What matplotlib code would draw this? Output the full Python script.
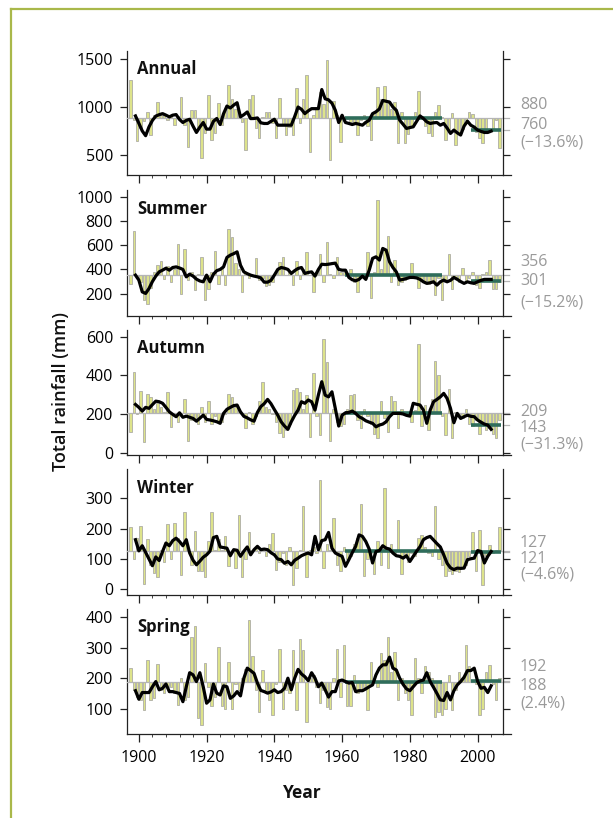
import numpy as np
import matplotlib.pyplot as plt
from matplotlib.lines import Line2D
from matplotlib.ticker import MultipleLocator
import matplotlib.transforms as mtransforms

plt.rcParams['font.family'] = ['Open Sans', 'DejaVu Sans']

# ---- data ----
years = np.arange(1897, 2007)       # bars
line_years = np.arange(1899, 2005)  # running mean

seasons = ['Annual', 'Summer', 'Autumn', 'Winter', 'Spring']
base_means = [880, 356, 209, 127, 188]      # 1961-1990 mean
recent_means = [760, 301, 143, 121, 192]    # 1997-2006 mean
change_labels = ['(\u221213.6%)', '(\u221215.2%)', '(\u221231.3%)', '(\u22124.6%)', '(2.4%)']

annual_bars = [1283, 860, 648, 776, 850, 948, 707, 914, 1052, 914,
               931, 862, 914, 810, 910, 1103, 810, 586, 966, 966,
               776, 466, 724, 1121, 655, 724, 1045, 810, 983, 1231,
               1086, 983, 948, 845, 552, 1086, 1121, 776, 672, 897,
               948, 948, 828, 672, 1093, 810, 707, 793, 707, 1197,
               828, 1086, 1334, 528, 914, 990, 1155, 1034, 1493, 448,
               1059, 914, 631, 850, 870, 840, 820, 707, 860, 914,
               800, 655, 948, 1207, 1086, 1224, 1040, 980, 1052, 621,
               950, 621, 720, 790, 950, 1172, 880, 800, 724, 700,
               948, 1024, 900, 655, 740, 940, 603, 720, 770, 860,
               948, 931, 741, 672, 621, 760, 880, 760, 860, 576]
summer_bars = [280, 715, 330, 300, 150, 115, 250, 380, 440, 470,
               320, 430, 300, 400, 610, 200, 570, 310, 380, 230,
               360, 505, 150, 240, 380, 550, 280, 420, 270, 730,
               670, 450, 400, 210, 380, 330, 350, 495, 310, 330,
               260, 270, 300, 390, 460, 500, 350, 380, 270, 470,
               320, 400, 545, 350, 210, 380, 530, 300, 625, 360,
               330, 500, 380, 380, 350, 400, 300, 210, 340, 360,
               545, 165, 380, 975, 400, 560, 675, 300, 480, 270,
               300, 310, 340, 455, 330, 250, 320, 300, 280, 300,
               190, 330, 150, 300, 530, 237, 330, 300, 408, 300,
               330, 380, 270, 250, 360, 380, 480, 240, 240, 300]
autumn_bars = [110, 420, 200, 320, 60, 305, 290, 230, 260, 240,
               210, 315, 136, 200, 160, 190, 277, 64, 170, 170,
               150, 236, 160, 270, 150, 190, 160, 160, 200, 305,
               290, 240, 230, 200, 128, 210, 150, 190, 270, 368,
               240, 230, 200, 160, 102, 85, 120, 150, 325, 334,
               316, 230, 300, 85, 411, 190, 93, 586, 471, 64,
               230, 160, 140, 150, 230, 300, 307, 170, 130, 230,
               190, 150, 100, 80, 270, 180, 110, 293, 270, 130,
               230, 200, 190, 160, 220, 560, 140, 250, 120, 280,
               475, 400, 190, 93, 333, 80, 210, 190, 180, 230,
               150, 140, 170, 100, 150, 120, 130, 100, 80, 170]
winter_bars = [205, 99, 167, 209, 17, 165, 80, 53, 40, 130,
               90, 215, 100, 218, 170, 47, 256, 130, 80, 193,
               60, 58, 40, 160, 256, 130, 165, 130, 175, 75,
               130, 70, 244, 40, 100, 190, 130, 140, 120, 130,
               110, 150, 185, 64, 90, 120, 80, 140, 13, 70,
               130, 275, 40, 130, 140, 120, 361, 70, 150, 130,
               234, 80, 60, 140, 100, 110, 150, 170, 280, 42,
               100, 120, 50, 160, 80, 334, 70, 150, 120, 229,
               50, 110, 90, 120, 110, 170, 180, 140, 120, 110,
               275, 100, 80, 42, 60, 50, 60, 55, 70, 80,
               110, 187, 60, 196, 14, 110, 146, 120, 130, 205]
spring_bars = [233, 162, 140, 130, 96, 260, 130, 135, 246, 160,
               150, 170, 170, 150, 112, 200, 130, 140, 336, 371,
               69, 47, 249, 170, 110, 140, 304, 110, 100, 254,
               100, 180, 160, 200, 230, 391, 273, 160, 90, 227,
               150, 130, 80, 180, 295, 100, 160, 150, 291, 97,
               328, 293, 58, 200, 210, 170, 120, 160, 105, 100,
               200, 295, 140, 309, 110, 110, 210, 150, 160, 170,
               97, 254, 200, 170, 284, 260, 334, 220, 287, 130,
               200, 150, 130, 79, 266, 200, 150, 240, 220, 200,
               72, 90, 80, 100, 210, 97, 160, 220, 200, 309,
               240, 190, 180, 79, 100, 220, 243, 180, 127, 200]

annual_line = [907, 830, 750, 700, 793, 860, 905, 920, 931, 915,
               897, 915, 921, 870, 838, 860, 872, 800, 734, 790,
               838, 769, 769, 850, 880, 817, 930, 1010, 990, 1020,
               1045, 897, 920, 948, 879, 880, 886, 835, 828, 828,
               850, 872, 810, 810, 810, 810, 810, 900, 1000, 976,
               931, 960, 983, 983, 983, 1183, 1086, 1075, 1040, 966,
               838, 914, 838, 828, 817, 828, 820, 810, 840, 862,
               931, 950, 980, 1069, 1060, 1052, 1000, 966, 862, 820,
               776, 785, 793, 850, 907, 880, 845, 828, 835, 838,
               810, 828, 780, 724, 759, 730, 707, 800, 852, 810,
               790, 759, 745, 734, 734, 748]
summer_line = [353, 312, 215, 202, 243, 300, 345, 380, 394, 410,
               394, 416, 421, 412, 400, 339, 361, 345, 320, 305,
               298, 353, 298, 360, 390, 400, 421, 499, 518, 530,
               545, 435, 380, 365, 353, 345, 339, 330, 295, 295,
               310, 353, 400, 416, 410, 400, 367, 390, 408, 416,
               367, 375, 380, 345, 400, 443, 440, 443, 448, 452,
               400, 394, 394, 334, 315, 306, 318, 345, 318, 394,
               491, 504, 477, 573, 559, 463, 416, 380, 312, 318,
               325, 334, 334, 330, 318, 298, 285, 290, 298, 271,
               298, 312, 298, 310, 334, 318, 300, 285, 298, 290,
               285, 298, 310, 318, 318, 318]
autumn_line = [251, 236, 217, 236, 231, 250, 268, 265, 257, 236,
               213, 200, 188, 208, 185, 191, 185, 179, 165, 180,
               196, 174, 171, 167, 162, 154, 205, 226, 236, 245,
               248, 213, 190, 182, 172, 165, 210, 240, 255, 277,
               255, 225, 196, 162, 140, 123, 162, 195, 222, 265,
               257, 274, 265, 222, 300, 368, 299, 290, 316, 230,
               140, 196, 208, 210, 217, 205, 188, 179, 167, 160,
               154, 136, 145, 150, 162, 188, 205, 205, 205, 202,
               195, 191, 257, 252, 248, 222, 154, 222, 265, 277,
               290, 308, 282, 231, 157, 205, 179, 188, 196, 190,
               188, 171, 160, 150, 145, 123]
winter_line = [163, 126, 143, 121, 99, 77, 106, 94, 124, 152,
               143, 160, 168, 157, 143, 163, 119, 95, 80, 92,
               105, 113, 125, 170, 174, 139, 137, 135, 110, 130,
               128, 108, 125, 139, 113, 130, 141, 130, 132, 130,
               120, 113, 99, 97, 85, 91, 80, 95, 102, 110,
               115, 119, 113, 174, 130, 160, 163, 187, 135, 119,
               113, 108, 75, 97, 120, 141, 179, 174, 157, 132,
               86, 124, 127, 143, 135, 132, 119, 110, 108, 102,
               110, 91, 108, 125, 140, 163, 170, 174, 162, 150,
               139, 113, 85, 70, 64, 69, 68, 69, 97, 100,
               102, 127, 124, 86, 108, 124]
spring_line = [159, 131, 153, 153, 153, 172, 189, 162, 167, 181,
               156, 156, 153, 150, 123, 172, 218, 211, 189, 218,
               172, 118, 129, 181, 151, 145, 175, 172, 134, 142,
               156, 142, 200, 233, 225, 216, 184, 160, 156, 151,
               155, 162, 153, 156, 167, 200, 162, 200, 229, 214,
               205, 192, 218, 200, 172, 184, 162, 138, 156, 156,
               191, 194, 189, 184, 186, 156, 159, 159, 165, 172,
               178, 211, 233, 244, 244, 269, 233, 227, 200, 180,
               165, 159, 172, 185, 191, 194, 218, 189, 170, 150,
               129, 127, 153, 129, 159, 178, 189, 203, 225, 225,
               233, 190, 167, 170, 153, 175]

bars_all = [annual_bars, summer_bars, autumn_bars, winter_bars, spring_bars]
lines_all = [annual_line, summer_line, autumn_line, winter_line, spring_line]

yticks_all = [[500, 1000, 1500], [200, 400, 600, 800, 1000], [0, 200, 400, 600],
              [0, 100, 200, 300], [100, 200, 300, 400]]
ylims = [(289, 1586), (16, 1055), (-9, 634), (-20, 397), (17, 427)]

# layout (pixels of a 613x818 canvas)
W, H = 613, 818
panel_px = [(51, 175), (190, 316), (330, 455), (469, 595), (609, 734)]
label_ypos = [(0.565, 0.403, 0.266), (0.429, 0.278, 0.107), (0.344, 0.216, 0.084),
              (0.409, 0.286, 0.159), (0.536, 0.384, 0.240)]

bar_face = '#dde38b'
bar_edge = '#adada5'
green = '#2f6d5b'
grey_txt = '#9a9a9a'

fig = plt.figure(figsize=(W / 100, H / 100), dpi=100, facecolor='white')

# olive frame
fig.add_artist(Line2D([11 / W, 11 / W], [0, 1 - 9 / H], color='#a9b84a', lw=1.6))
fig.add_artist(Line2D([11 / W, 1], [1 - 9 / H, 1 - 9 / H], color='#a9b84a', lw=1.6))

axes = []
for i, name in enumerate(seasons):
    top, bot = panel_px[i]
    ax = fig.add_axes([127 / W, 1 - bot / H, 376 / W, (bot - top) / H])
    axes.append(ax)
    base = base_means[i]
    vals = np.array(bars_all[i], dtype=float)

    ax.bar(years + 0.5, vals - base, bottom=base, width=0.72,
           color=bar_face, edgecolor=bar_edge, linewidth=0.6, zorder=2)
    ax.axhline(base, color='#b5b5b5', lw=0.9, zorder=3)
    ax.plot([1961, 1989.5], [base, base], color=green, lw=2.6,
            solid_capstyle='butt', zorder=4)
    ax.plot([1998, 2007], [recent_means[i], recent_means[i]], color=green, lw=2.6,
            solid_capstyle='butt', zorder=4)
    ax.plot(line_years, lines_all[i], color='black', lw=2.3, zorder=5)

    ax.set_xlim(1896.5, 2007.5)
    ax.set_ylim(*ylims[i])
    ax.set_yticks(yticks_all[i])
    ax.xaxis.set_major_locator(MultipleLocator(20))
    ax.xaxis.set_minor_locator(MultipleLocator(4))

    ax.spines['top'].set_visible(False)
    for s in ['left', 'right', 'bottom']:
        ax.spines[s].set_color('#222222')
        ax.spines[s].set_linewidth(0.9)

    ax.tick_params(axis='y', which='major', direction='out', length=5, width=0.9,
                   left=True, right=True, labelright=False, labelsize=11.5,
                   pad=5, color='#222222')
    ax.tick_params(axis='x', which='major', direction='out', length=5.5, width=0.9,
                   labelsize=11.5, pad=6, color='#222222')
    ax.tick_params(axis='x', which='minor', direction='out', length=2.5, width=0.7,
                   color='#444444')
    if i < 4:
        ax.tick_params(axis='x', labelbottom=False)

    # bottom spine runs on past the right axis
    ax.add_line(Line2D([1.0, 1.022], [0, 0], transform=ax.transAxes,
                       color='#222222', lw=0.9, clip_on=False))

    # short grey marks at the two means
    trans = mtransforms.blended_transform_factory(ax.transAxes, ax.transData)
    for v in (base, recent_means[i]):
        ax.add_line(Line2D([1.0, 1.016], [v, v], transform=trans,
                           color='#b5b5b5', lw=0.9, clip_on=False))

    ax.text(0.027, 0.853, name, transform=ax.transAxes, fontsize=12,
            fontweight='bold', ha='left', va='center', color='#111111')

    hi, lo = sorted([base, recent_means[i]], reverse=True)
    texts = [str(hi), str(lo), change_labels[i]]
    for t, yp in zip(texts, label_ypos[i]):
        ax.text(1.045, yp, t, transform=ax.transAxes, fontsize=11.5,
                color=grey_txt, ha='left', va='center')

fig.text(61 / W, 1 - 391 / H, 'Total rainfall (mm)', rotation=90, fontsize=13,
         fontweight=600, ha='center', va='center', color='#111111')
fig.text(302 / W, 1 - 793 / H, 'Year', fontsize=12.5, fontweight='bold',
         ha='center', va='center', color='#111111')

fig.savefig('out.png', dpi=100, facecolor='white')
